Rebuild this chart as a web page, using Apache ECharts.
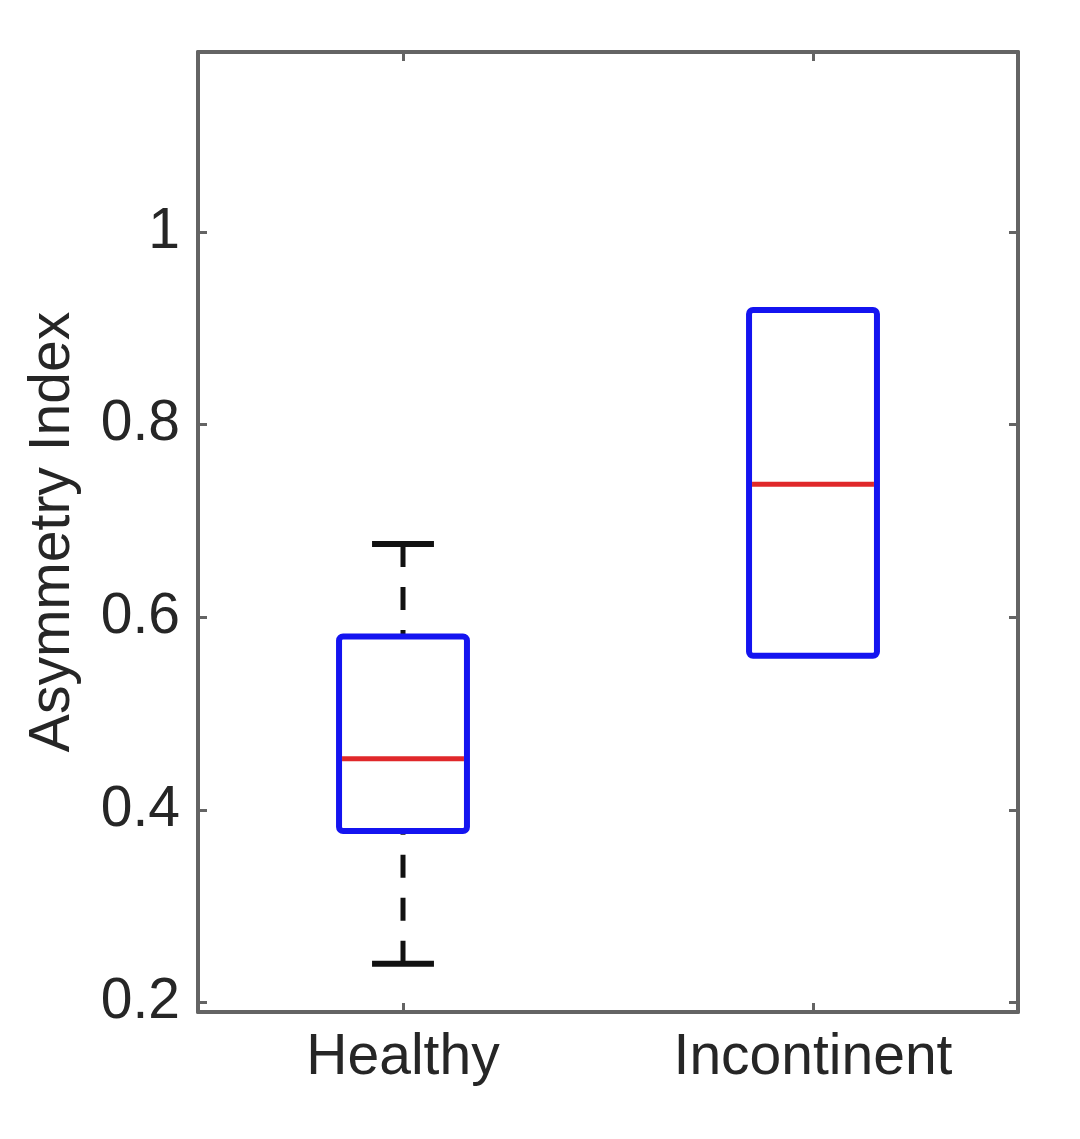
<!DOCTYPE html>
<html>
<head>
<meta charset="utf-8">
<script src="https://cdn.jsdelivr.net/npm/echarts@6/dist/echarts.min.js"></script>
<style>
  html, body { margin: 0; padding: 0; background: #ffffff; }
  #chart { width: 1080px; height: 1139px; }
</style>
</head>
<body>
<div id="chart"></div>
<script>
// ---- data ----
const categories  = ['Healthy', 'Incontinent'];
const whiskerLow  = [0.240, 0.560];
const q1          = [0.378, 0.560];
const median      = [0.453, 0.738];
const q3          = [0.580, 0.919];
const whiskerHigh = [0.676, 0.919];
const yTicks      = [0.2, 0.4, 0.6, 0.8, 1];
const yMin = 0.19, yMax = 1.187;

const rows = categories.map((c, i) => [i, whiskerLow[i], q1[i], median[i], q3[i], whiskerHigh[i]]);

const FONT = "'Liberation Sans', Arial, sans-serif";
const FRAME = '#646464';
const TEXT = '#262626';
const FS = 57;

function renderBox(params, api) {
  const i = api.value(0);
  const wl = api.value(1), lo = api.value(2), md = api.value(3), hi = api.value(4), wh = api.value(5);
  const band = api.size([1, 0])[0];
  const boxW = band * 0.312;
  const capW = band * 0.151;
  const pWl = api.coord([i, wl]);
  const pLo = api.coord([i, lo]);
  const pMd = api.coord([i, md]);
  const pHi = api.coord([i, hi]);
  const pWh = api.coord([i, wh]);
  const cx = pMd[0];
  const children = [];
  const dashStyle = { stroke: '#111111', lineWidth: 5, lineDash: [23, 20], fill: null };
  const capStyle = { stroke: '#111111', lineWidth: 6, fill: null };
  if (wh > hi) {
    children.push({ type: 'line', shape: { x1: cx, y1: pWh[1], x2: cx, y2: pHi[1] }, style: dashStyle });
    children.push({ type: 'line', shape: { x1: cx - capW / 2, y1: pWh[1], x2: cx + capW / 2, y2: pWh[1] }, style: capStyle });
  }
  if (wl < lo) {
    children.push({ type: 'line', shape: { x1: cx, y1: pWl[1], x2: cx, y2: pLo[1] }, style: dashStyle });
    children.push({ type: 'line', shape: { x1: cx - capW / 2, y1: pWl[1], x2: cx + capW / 2, y2: pWl[1] }, style: capStyle });
  }
  children.push({
    type: 'rect',
    shape: { x: cx - boxW / 2, y: pHi[1], width: boxW, height: pLo[1] - pHi[1], r: 4 },
    style: { stroke: '#1414f0', lineWidth: 6, fill: 'rgba(255,255,255,0)', lineJoin: 'round' }
  });
  children.push({
    type: 'line',
    shape: { x1: cx - boxW / 2 + 3, y1: pMd[1], x2: cx + boxW / 2 - 3, y2: pMd[1] },
    style: { stroke: '#e0282a', lineWidth: 5 }
  });
  return { type: 'group', children };
}

const chart = echarts.init(document.getElementById('chart'), null, { renderer: 'canvas' });
chart.setOption({
  animation: false,
  backgroundColor: '#ffffff',
  textStyle: { fontFamily: FONT },
  grid: { left: 198, right: 62, top: 52, bottom: 127, show: false },
  xAxis: [
    {
      type: 'category', data: categories, position: 'bottom', boundaryGap: true,
      axisLine: { show: true, lineStyle: { color: FRAME, width: 4 } },
      axisTick: { show: true, inside: true, alignWithLabel: true, length: 9, lineStyle: { color: FRAME, width: 3 } },
      axisLabel: { show: true, color: TEXT, fontSize: FS, fontFamily: FONT, margin: 18 },
      splitLine: { show: false }
    },
    {
      type: 'category', data: categories, position: 'top', boundaryGap: true,
      axisLine: { show: true, lineStyle: { color: FRAME, width: 4 } },
      axisTick: { show: true, inside: true, alignWithLabel: true, length: 9, lineStyle: { color: FRAME, width: 3 } },
      axisLabel: { show: false },
      splitLine: { show: false }
    }
  ],
  yAxis: [
    {
      type: 'value', min: yMin, max: yMax, position: 'left',
      name: 'Asymmetry Index', nameLocation: 'middle', nameRotate: 90, nameGap: 116,
      nameTextStyle: { color: TEXT, fontSize: FS, fontFamily: FONT },
      axisLine: { show: true, lineStyle: { color: FRAME, width: 4 } },
      axisTick: { show: true, inside: true, length: 9, customValues: yTicks, lineStyle: { color: FRAME, width: 3 } },
      axisLabel: { show: true, color: TEXT, fontSize: FS, fontFamily: FONT, margin: 18, customValues: yTicks,
                   formatter: v => String(+v.toFixed(2)) },
      splitLine: { show: false }
    },
    {
      type: 'value', min: yMin, max: yMax, position: 'right',
      axisLine: { show: true, lineStyle: { color: FRAME, width: 4 } },
      axisTick: { show: true, inside: true, length: 9, customValues: yTicks, lineStyle: { color: FRAME, width: 3 } },
      axisLabel: { show: false },
      splitLine: { show: false }
    }
  ],
  series: [
    {
      type: 'custom',
      xAxisIndex: 0, yAxisIndex: 0,
      data: rows,
      encode: { x: 0, y: [1, 2, 3, 4, 5] },
      renderItem: renderBox,
      clip: false,
      z: 5
    }
  ]
});
</script>
</body>
</html>
